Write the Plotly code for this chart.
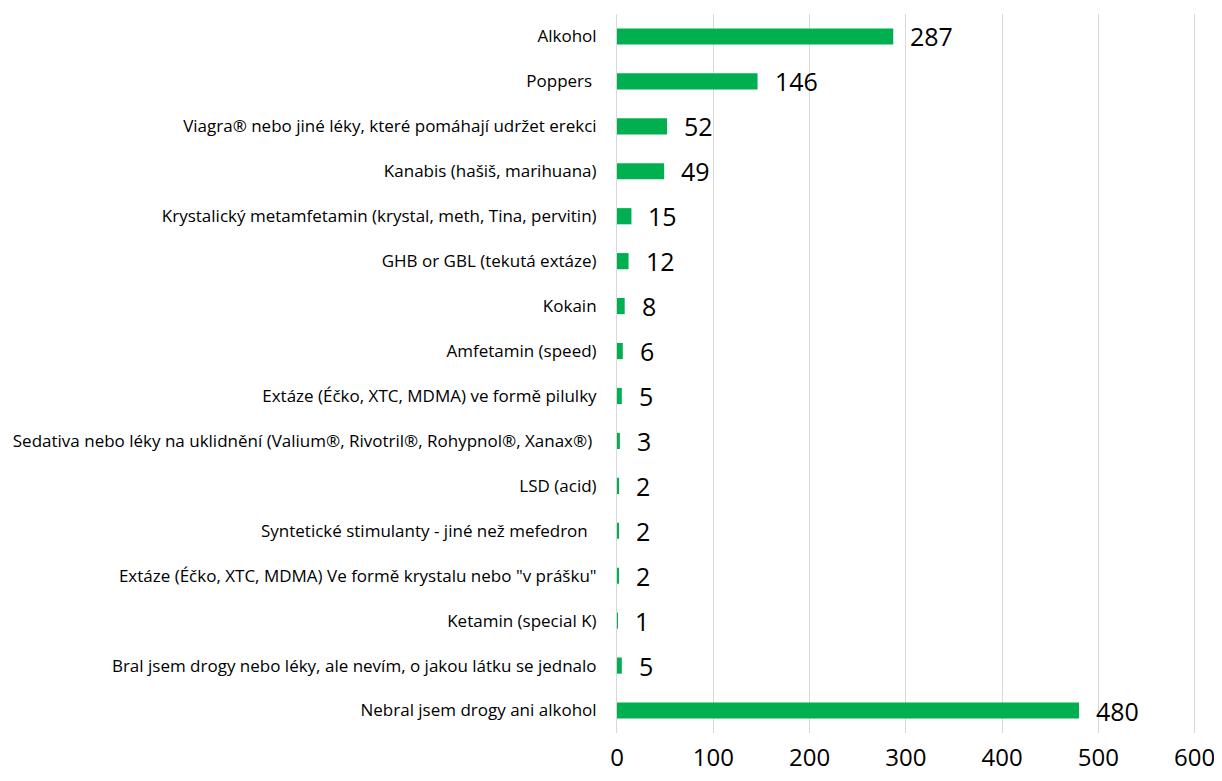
import plotly.graph_objects as go

# categories top to bottom as shown in the chart
categories = [
    "Alkohol",
    "Poppers\u00a0",
    "Viagra® nebo jiné léky, které pomáhají udržet erekci",
    "Kanabis (hašiš, marihuana)",
    "Krystalický metamfetamin (krystal, meth, Tina, pervitin)",
    "GHB or GBL (tekutá extáze)",
    "Kokain",
    "Amfetamin (speed)",
    "Extáze (Éčko, XTC, MDMA) ve formě pilulky",
    "Sedativa nebo léky na uklidnění (Valium®, Rivotril®, Rohypnol®, Xanax®)\u00a0",
    "LSD (acid)",
    "Syntetické stimulanty - jiné než mefedron\u00a0\u00a0",
    "Extáze (Éčko, XTC, MDMA) Ve formě krystalu nebo \"v prášku\"",
    "Ketamin (special K)",
    "Bral jsem drogy nebo léky, ale nevím, o jakou látku se jednalo",
    "Nebral jsem drogy ani alkohol",
]
counts = [287, 146, 52, 49, 15, 12, 8, 6, 5, 3, 2, 2, 2, 1, 5, 480]
x_ticks = [0, 100, 200, 300, 400, 500, 600]

bar_color = "#00B050"
label_font = "Open Sans, Noto Sans, sans-serif"

fig = go.Figure(
    go.Bar(
        x=counts,
        y=categories,
        orientation="h",
        marker=dict(color=bar_color, line=dict(width=0)),
        width=0.36,
        hoverinfo="x+y",
    )
)

# value labels just right of each bar
for cat, val in zip(categories, counts):
    fig.add_annotation(
        x=val,
        y=cat,
        text=str(val),
        showarrow=False,
        xanchor="left",
        yanchor="middle",
        xshift=15,
        yshift=0,
        font=dict(family=label_font, size=25, color="#000000"),
    )

# range ends a hair past 600 so the last gridline is not clipped
fig.update_xaxes(
    range=[0, 601.5],
    tickvals=x_ticks,
    showgrid=True,
    gridcolor="#D9D9D9",
    gridwidth=1,
    zeroline=False,
    showline=False,
    ticks="",
    ticklabelstandoff=8,
    tickfont=dict(family=label_font, size=24, color="#000000"),
)
fig.update_yaxes(
    autorange="reversed",
    showgrid=False,
    zeroline=False,
    showline=True,
    linecolor="#D9D9D9",
    ticks="",
    ticklabelstandoff=16,
    tickfont=dict(family=label_font, size=17, color="#000000"),
)
# page body adds an 8px margin, so keep the figure inside the window
fig.update_layout(
    width=1214,
    height=765,
    margin=dict(l=609, r=26, t=6, b=40, autoexpand=False),
    plot_bgcolor="white",
    paper_bgcolor="white",
    showlegend=False,
)

fig.write_html("out.html")
